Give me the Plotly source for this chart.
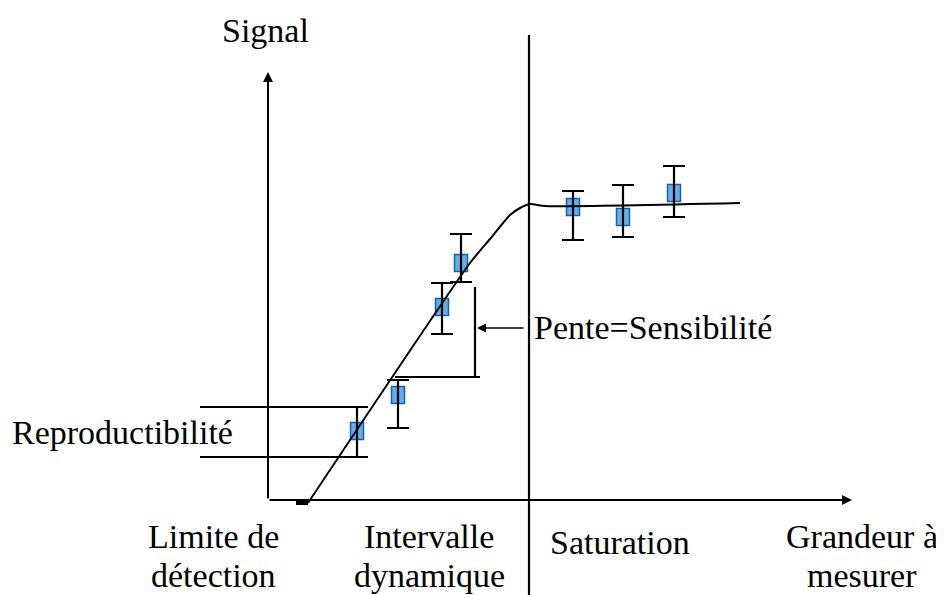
import plotly.graph_objects as go

# ---- data (x = grandeur à mesurer, y = signal; arbitrary units, origin at axes crossing)
conc = [89, 130, 174, 193, 305, 355, 406]
signal = [69, 105, 193, 237, 293, 283, 307]
err_up = [24, 15, 24, 29, 16, 32, 27]
err_down = [26, 33, 27, 19, 33, 20, 24]

curve_x = [40, 202, 222, 242, 252, 262, 277, 472]
curve_y = [-3, 237, 261, 285, 292, 296, 294, 297]

x_axis_end = 584
y_axis_end = 428
saturation_x = 261

region_lines = ["Limite de", "détection", "Intervalle", "dynamique", "Saturation",
                "Grandeur à", "mesurer"]
region_line_x = [-55, -55, 161, 161, 352, 594, 594]
region_line_y = [-36, -75, -36, -75, -42, -36, -75]

FONT = "Liberation Serif, Times New Roman, serif"
FS = 34

fig = go.Figure()

# calibration curve
fig.add_trace(go.Scatter(x=curve_x, y=curve_y, mode="lines",
                         line=dict(color="black", width=2, shape="spline", smoothing=0.6),
                         hoverinfo="skip"))

# small stub at start of the curve
fig.add_trace(go.Scatter(x=[28, 40], y=[-3, -3], mode="lines",
                         line=dict(color="black", width=4), hoverinfo="skip"))

# error bars
fig.add_trace(go.Scatter(
    x=conc, y=signal, mode="markers",
    marker=dict(size=1, color="rgba(0,0,0,0)"),
    error_y=dict(type="data", symmetric=False, array=err_up, arrayminus=err_down,
                 color="black", thickness=2.2, width=11),
    hoverinfo="skip"))

shapes = []
# blue boxes
HW, HH = 6.5, 8.5
for cx, cy in zip(conc, signal):
    shapes.append(dict(type="rect", xref="x", yref="y", x0=cx - HW, x1=cx + HW,
                       y0=cy - HH, y1=cy + HH, layer="below",
                       fillcolor="#62aeec", line=dict(color="#1d5fa8", width=1.5)))

# saturation divider
shapes.append(dict(type="line", xref="x", yref="y", x0=saturation_x, x1=saturation_x,
                   y0=465, y1=-95, line=dict(color="black", width=2.2)))

# reproducibility bracket (from the first point's error bar)
rep_top = signal[0] + err_up[0]
rep_bot = signal[0] - err_down[0]
for yy in (rep_top, rep_bot):
    shapes.append(dict(type="line", xref="x", yref="y", x0=-68, x1=conc[0] + 10,
                       y0=yy, y1=yy, line=dict(color="black", width=2.2)))

# sensitivity bracket
shapes.append(dict(type="line", xref="x", yref="y", x0=127, x1=212, y0=123, y1=123,
                   line=dict(color="black", width=2.2)))
shapes.append(dict(type="line", xref="x", yref="y", x0=207, x1=207, y0=123, y1=213,
                   line=dict(color="black", width=2.2)))

annotations = []
# axes arrows
annotations.append(dict(x=0, y=y_axis_end, ax=0, ay=0, xref="x", yref="y",
                        axref="x", ayref="y", showarrow=True, arrowhead=2,
                        arrowsize=1, arrowwidth=2, arrowcolor="black", text=""))
annotations.append(dict(x=x_axis_end, y=0, ax=0, ay=0, xref="x", yref="y",
                        axref="x", ayref="y", showarrow=True, arrowhead=2,
                        arrowsize=1, arrowwidth=2, arrowcolor="black", text=""))
# sensitivity arrow
annotations.append(dict(x=209, y=172, ax=257, ay=172, xref="x", yref="y",
                        axref="x", ayref="y", showarrow=True, arrowhead=2,
                        arrowsize=1.2, arrowwidth=1.5, arrowcolor="black", text=""))

# texts
annotations.append(dict(x=-3, y=470, xref="x", yref="y", text="Signal", showarrow=False,
                        font=dict(family=FONT, size=FS, color="black")))
annotations.append(dict(x=264, y=173, xref="x", yref="y", text="Pente=Sensibilité",
                        showarrow=False, xanchor="left",
                        font=dict(family=FONT, size=FS, color="black")))
annotations.append(dict(x=-258, y=68, xref="x", yref="y", text="Reproductibilité",
                        showarrow=False, xanchor="left",
                        font=dict(family=FONT, size=FS, color="black")))
for t, lx, ly in zip(region_lines, region_line_x, region_line_y):
    annotations.append(dict(x=lx, y=ly, xref="x", yref="y", text=t, showarrow=False,
                            borderpad=0,
                            font=dict(family=FONT, size=FS, color="black")))

# page has an 8px body margin: size the figure to fit the window and keep 1 unit = 1 px
fig.update_layout(
    width=936, height=587,
    margin=dict(l=0, r=0, t=0, b=0),
    paper_bgcolor="white", plot_bgcolor="white",
    showlegend=False,
    shapes=shapes, annotations=annotations,
    xaxis=dict(range=[-260, 676], visible=False, fixedrange=True),
    yaxis=dict(range=[-95, 492], visible=False, fixedrange=True),
)

fig.write_html("out.html")
